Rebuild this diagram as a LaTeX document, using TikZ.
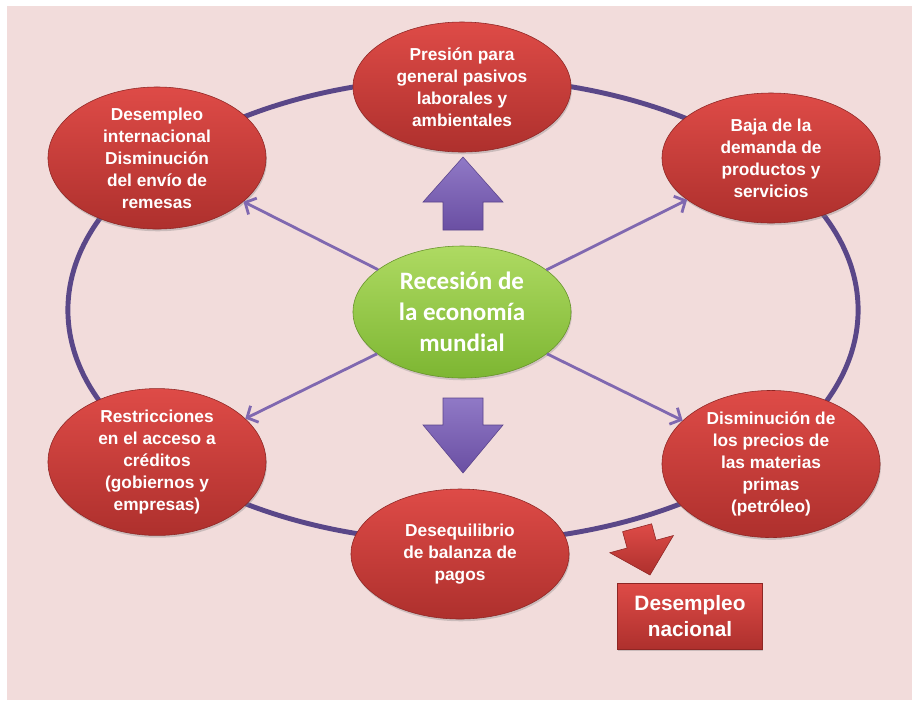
\documentclass[tikz,border=0pt]{standalone}
\usepackage{fontspec}
\setmainfont{Liberation Sans}
\newfontfamily\calibfont{Carlito}
\usetikzlibrary{shapes.geometric,arrows.meta,shadows}
\definecolor{bgpink}{HTML}{F2DCDB}
\definecolor{redtop}{HTML}{DE4B47}
\definecolor{redbot}{HTML}{AE302D}
\definecolor{redline}{HTML}{8E2624}
\definecolor{greentop}{HTML}{AEDA62}
\definecolor{greenbot}{HTML}{7DB632}
\definecolor{ringpurple}{HTML}{5A4788}
\definecolor{linkpurple}{HTML}{8068B0}
\definecolor{blocktop}{HTML}{9079C6}
\definecolor{blockbot}{HTML}{6A4FA3}
\begin{document}
\begin{tikzpicture}[x=0.025cm,y=-0.025cm,
  redball/.style={ellipse,minimum width=5.45cm,minimum height=3.25cm,inner sep=0pt,
    top color=redtop,bottom color=redbot,draw=redline,thin,text=white,align=center,
    font=\fontsize{12.3}{15.6}\selectfont\bfseries,
    drop shadow={opacity=0.35,shadow xshift=0.6pt,shadow yshift=-1.6pt}},
  greenball/.style={ellipse,minimum width=5.45cm,minimum height=3.3cm,inner sep=0pt,
    top color=greentop,bottom color=greenbot,draw=greenbot!80!black,thin,text=white,
    align=center,font=\calibfont\fontsize{17.8}{22}\selectfont\bfseries,
    drop shadow={opacity=0.3,shadow xshift=0.6pt,shadow yshift=-1.6pt}},
  redbox/.style={rectangle,minimum width=3.63cm,minimum height=1.65cm,inner sep=0pt,
    top color=redtop,bottom color=redbot,draw=redline,thin,text=white,align=center,
    font=\fontsize{14.8}{18.4}\selectfont\bfseries,
    drop shadow={opacity=0.35,shadow xshift=0.6pt,shadow yshift=-1.6pt}},
  ring/.style={draw=ringpurple,line width=3.5pt},
  link/.style={draw=linkpurple,line width=2pt,-{Straight Barb[length=6pt,width=13pt]}},
  blockarrow/.style={top color=blocktop,bottom color=blockbot,draw=blockbot!85!black,thin}]
  \useasboundingbox (0,0) rectangle (912,700);
  \fill[bgpink] (7,6) rectangle (912,700);

  % big ring behind everything
  \draw[ring] (463,310) ellipse [x radius=9.875cm,y radius=5.8cm];

  % the six effects
  \node[redball] (presion) at (462,87) {Presión para\\general pasivos\\laborales y\\ambientales};
  \node[redball] (desint) at (157,158) {Desempleo\\internacional\\Disminución\\del envío de\\remesas};
  \node[redball] (baja) at (771,158) {Baja de la\\demanda de\\productos y\\servicios};
  \node[redball] (restr) at (157,462) {Restricciones\\en el acceso a\\créditos\\(gobiernos y\\empresas)};
  \node[redball] (precios) at (771,464) {Disminución de\\los precios de\\las materias\\primas\\(petróleo)};
  \node[redball] (deseq) at (460,554) {Desequilibrio\\de balanza de\\pagos};

  % centre
  \node[greenball] (recesion) at (462,312) {Recesión de\\la economía\\mundial};

  \node[redbox] (desnac) at (690,616) {Desempleo\\nacional};

  % thin arrows out of the centre
  \foreach \target in {desint,baja,restr,precios} {
    \draw[link] (recesion) -- (\target);
  }

  % block arrows
  \shade[blockarrow] (463,157) -- (503,202) -- (483,202) -- (483,230)
    -- (443,230) -- (443,202) -- (423,202) -- cycle;
  \shade[blockarrow] (443,398) -- (483,398) -- (483,425) -- (503,425)
    -- (463,473) -- (423,425) -- (443,425) -- cycle;
  \shade[top color=redtop,bottom color=redbot,draw=redline,thin]
    (622.6,531.6) -- (651.6,523.8) -- (656.1,540.2) -- (673.4,535.5)
    -- (650,575) -- (609.8,552.7) -- (627.1,548.0) -- cycle;
\end{tikzpicture}
\end{document}
